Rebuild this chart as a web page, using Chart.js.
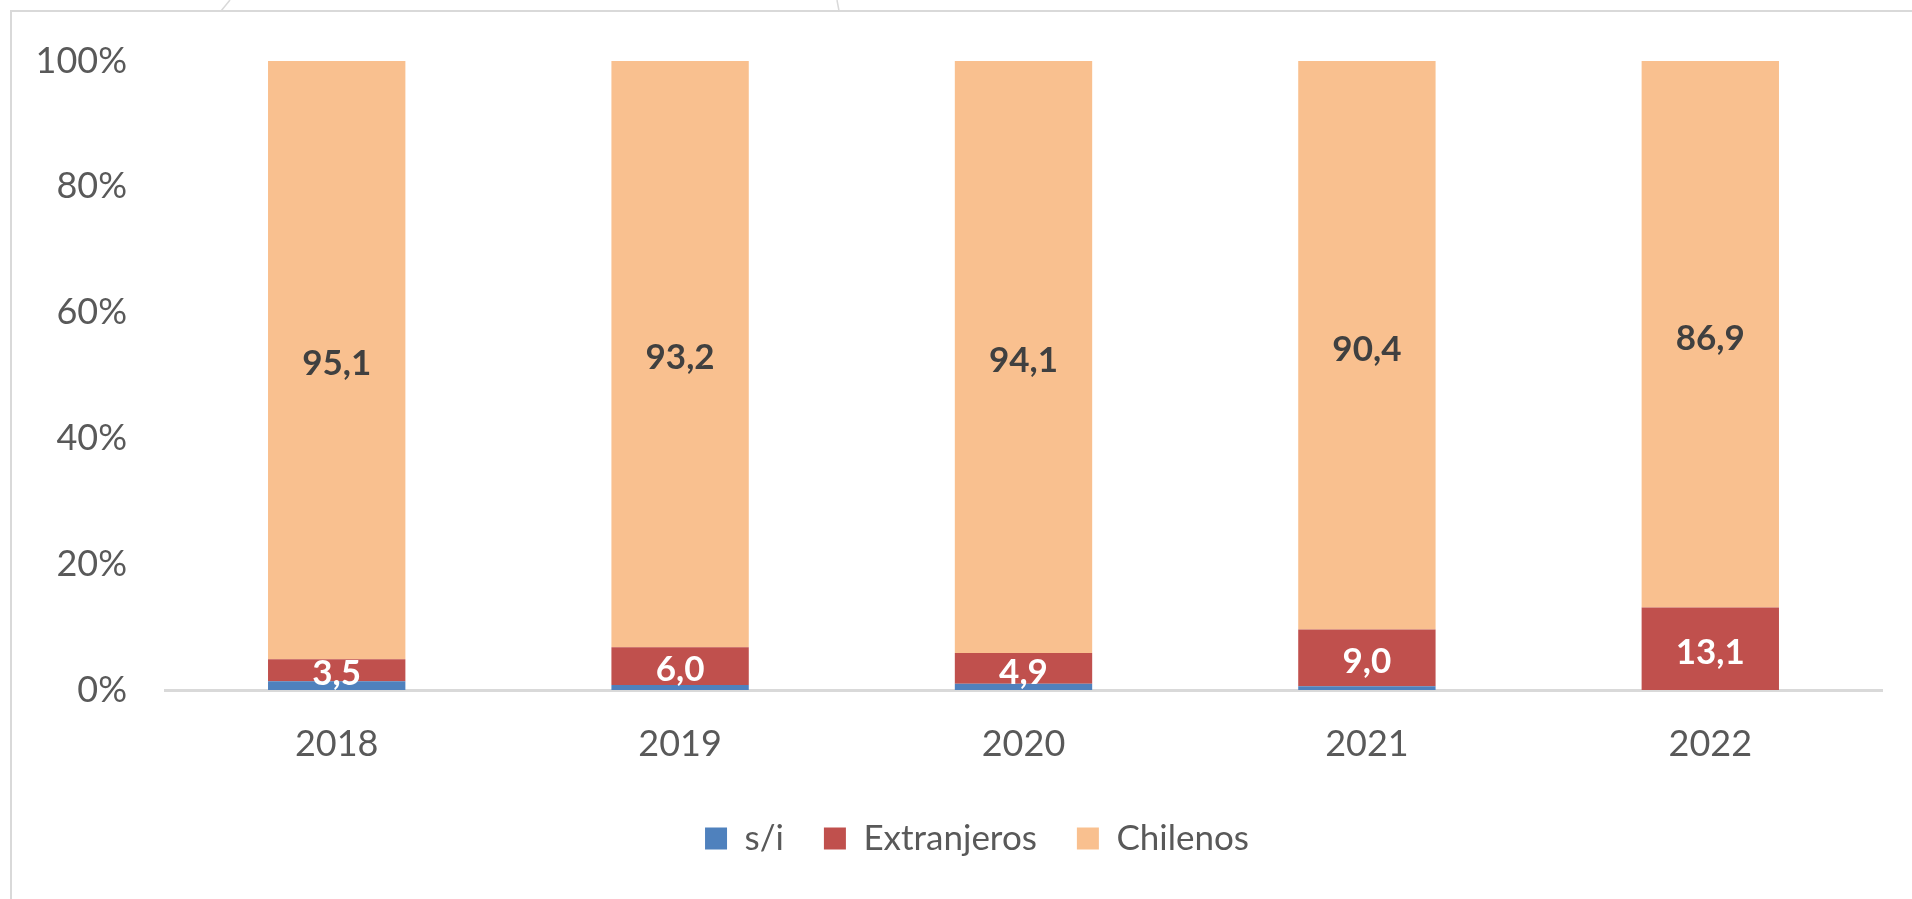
<!DOCTYPE html>
<html>
<head>
<meta charset="utf-8">
<script src="https://cdn.jsdelivr.net/npm/chart.js@4/dist/chart.umd.min.js"></script>
<style>
  html, body { margin: 0; padding: 0; background: #fff; overflow: hidden; }
  #wrap { position: relative; width: 1912px; height: 899px; }
  #frame { position: absolute; left: 10px; top: 10px; right: -10px; bottom: -10px;
           border-left: 2px solid #d9d9d9; border-top: 2px solid #d9d9d9; }
  #deco { position: absolute; left: 0; top: 0; }
  canvas { position: absolute; left: 0; top: 0; }
</style>
</head>
<body>
<div id="wrap">
  <div id="frame"></div>
  <svg id="deco" width="1912" height="20">
    <line x1="230" y1="0" x2="221" y2="11" stroke="#d9d9d9" stroke-width="1.5"/>
    <line x1="837" y1="0" x2="839" y2="11" stroke="#d9d9d9" stroke-width="1.5"/>
  </svg>
  <canvas id="c" width="1912" height="899"></canvas>
</div>
<script>
const categories = ['2018', '2019', '2020', '2021', '2022'];
const siValues = [1.4, 0.8, 1.0, 0.6, 0.0];
const extranjerosValues = [3.5, 6.0, 4.9, 9.0, 13.1];
const chilenosValues = [95.1, 93.2, 94.1, 90.4, 86.9];
const yTickValues = [0, 20, 40, 60, 80, 100];

const FONT = 'Lato, "Open Sans", sans-serif';

const labelPlugin = {
  id: 'segLabels',
  afterDatasetsDraw(chart) {
    const ctx = chart.ctx;
    ctx.save();
    ctx.textAlign = 'center';
    ctx.textBaseline = 'middle';
    ctx.font = 'bold 35px ' + FONT;
    chart.data.datasets.forEach((ds, di) => {
      if (!ds.showLabels) return;
      const meta = chart.getDatasetMeta(di);
      meta.data.forEach((el, i) => {
        const v = ds.data[i];
        const p = el.getProps(['x', 'y', 'base'], true);
        ctx.fillStyle = ds.labelColor;
        ctx.fillText(v.toFixed(1).replace('.', ','), p.x, (p.y + p.base) / 2 + 4);
      });
    });
    ctx.restore();
  }
};

new Chart(document.getElementById('c'), {
  type: 'bar',
  data: {
    labels: categories,
    datasets: [
      { label: 's/i', data: siValues, backgroundColor: '#4F81BD', showLabels: false },
      { label: 'Extranjeros', data: extranjerosValues, backgroundColor: '#C0504D', showLabels: true, labelColor: '#ffffff' },
      { label: 'Chilenos', data: chilenosValues, backgroundColor: '#F9C08F', showLabels: true, labelColor: '#404040' }
    ]
  },
  options: {
    responsive: false,
    animation: false,
    devicePixelRatio: 1,
    datasets: { bar: { barPercentage: 0.4, categoryPercentage: 1.0, borderWidth: 0 } },
    layout: { padding: { left: 72, right: 30, top: 61, bottom: 33 } },
    plugins: {
      tooltip: { enabled: false },
      legend: {
        position: 'bottom',
        labels: {
          color: '#595959',
          font: { family: FONT, size: 35 },
          boxWidth: 22, boxHeight: 22,
          padding: 40
        }
      }
    },
    scales: {
      x: {
        stacked: true,
        grid: { display: false, drawTicks: false },
        border: { display: true, color: '#d9d9d9', width: 3 },
        ticks: { color: '#595959', font: { family: FONT, size: 36 }, padding: 33 },
        afterFit(scale) { scale.height = 91; }
      },
      y: {
        stacked: true,
        min: 0, max: 100,
        grid: { display: false, drawTicks: false },
        border: { display: false },
        afterBuildTicks(scale) { scale.ticks = yTickValues.map(v => ({ value: v })); },
        ticks: {
          color: '#595959', font: { family: FONT, size: 36 }, padding: 38,
          callback: v => v + '%'
        },
        afterFit(scale) {
          scale.width = 93;
          scale._computeLabelArea = () => null;
        }
      }
    }
  },
  plugins: [labelPlugin]
});
</script>
</body>
</html>
